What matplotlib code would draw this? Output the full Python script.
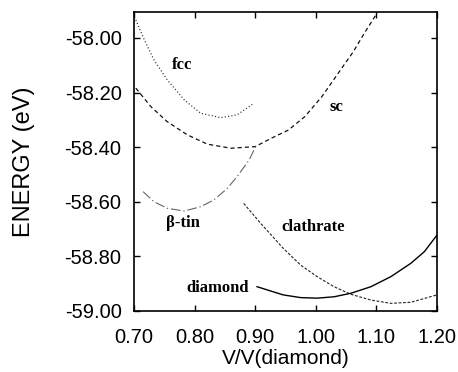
import matplotlib
matplotlib.use("Agg")
import matplotlib.pyplot as plt

# energy vs volume curves for the silicon phases
fcc_v = [0.703, 0.717, 0.733, 0.755, 0.783, 0.810, 0.843, 0.870, 0.898]
fcc_e = [-57.934, -58.007, -58.081, -58.154, -58.227, -58.276, -58.292, -58.282, -58.239]

sc_v = [0.703, 0.728, 0.755, 0.788, 0.821, 0.860, 0.900, 0.927, 0.955, 0.982,
        1.010, 1.037, 1.062, 1.080, 1.099, 1.104]
sc_e = [-58.184, -58.252, -58.307, -58.355, -58.389, -58.404, -58.398, -58.367, -58.337, -58.288,
        -58.215, -58.129, -58.050, -57.983, -57.916, -57.890]

btin_v = [0.715, 0.733, 0.755, 0.783, 0.810, 0.832, 0.854, 0.870, 0.890, 0.902]
btin_e = [-58.563, -58.600, -58.624, -58.634, -58.618, -58.593, -58.551, -58.508, -58.447, -58.392]

clath_v = [0.881, 0.909, 0.946, 0.975, 1.002, 1.030, 1.058, 1.091, 1.124, 1.157, 1.200]
clath_e = [-58.606, -58.679, -58.770, -58.832, -58.874, -58.911, -58.939, -58.960, -58.972,
           -58.968, -58.941]

diam_v = [0.903, 0.946, 0.975, 1.002, 1.030, 1.058, 1.091, 1.124, 1.157, 1.179, 1.200]
diam_e = [-58.911, -58.941, -58.951, -58.953, -58.948, -58.935, -58.911, -58.874, -58.825,
          -58.783, -58.722]

xticks = [0.70, 0.80, 0.90, 1.00, 1.10, 1.20]
yticks = [-59.00, -58.80, -58.60, -58.40, -58.20, -58.00]

plt.rcParams['lines.scale_dashes'] = False
tick_font = ['Liberation Sans', 'DejaVu Sans']
lab_font = ['Liberation Serif', 'DejaVu Serif']

fig = plt.figure(figsize=(4.58, 3.72), dpi=100)
ax = fig.add_axes([0.2926, 0.164, 0.6616, 0.8038])

ax.plot(fcc_v, fcc_e, color='#333333', lw=0.9, linestyle=(0, (0.8, 1.6)))
ax.plot(sc_v, sc_e, color='#111111', lw=0.9, linestyle=(0, (3.0, 2.2)))
ax.plot(btin_v, btin_e, color='#666666', lw=0.8, linestyle=(0, (7, 2, 1, 2)))
ax.plot(clath_v, clath_e, color='#222222', lw=0.8, linestyle=(0, (2.0, 1.2)))
ax.plot(diam_v, diam_e, color='black', lw=1.0)

# phase names next to each curve
labels = [("fcc", 0.780, -58.099), ("sc", 1.034, -58.252), ("β-tin", 0.780, -58.679),
          ("diamond", 0.838, -58.915), ("clathrate", 0.995, -58.692)]
for name, lx, ly in labels:
    ax.text(lx, ly, name, family=lab_font, fontweight='bold', fontsize=12,
            ha='center', va='center')

ax.set_xlim(0.70, 1.20)
ax.set_ylim(-59.00, -57.905)
ax.set_xticks(xticks)
ax.set_yticks(yticks)
ax.set_xticklabels([f"{t:.2f}" for t in xticks], family=tick_font, fontsize=14.5)
ax.set_yticklabels([f"{t:.2f}" for t in yticks], family=tick_font, fontsize=14.5)
ax.tick_params(direction='in', length=4, width=1, top=True, right=True)
ax.tick_params(axis='x', pad=12)
ax.tick_params(axis='y', pad=9)
for s in ax.spines.values():
    s.set_linewidth(1.2)

ax.set_xlabel("V/V(diamond)", family=tick_font, fontsize=15, labelpad=2)
ax.set_ylabel("ENERGY (eV)", family=['Liberation Sans', 'DejaVu Sans'], fontsize=17, labelpad=21)

fig.savefig("out.png", dpi=100)
